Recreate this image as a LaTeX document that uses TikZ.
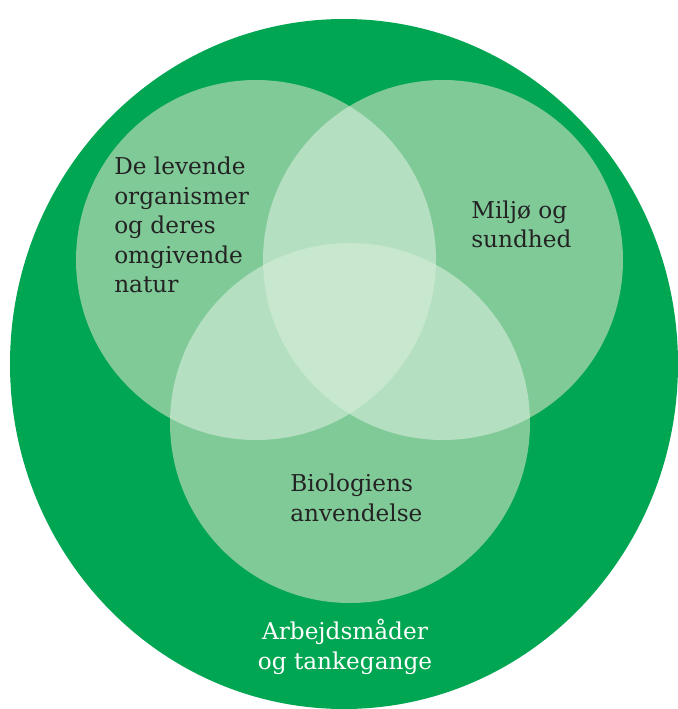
\documentclass[tikz,border=0pt]{standalone}
\usepackage{tikz}
\usepackage{fontspec}
\setmainfont{DejaVu Serif}
\usetikzlibrary{positioning}
\definecolor{ringgreen}{RGB}{0,166,81}
\definecolor{onegreen}{RGB}{128,202,152}
\definecolor{twogreen}{RGB}{180,223,192}
\definecolor{threegreen}{RGB}{199,231,207}
\definecolor{labeldark}{RGB}{35,35,35}
\newcommand{\circrad}{4.5}

\begin{document}
\begin{tikzpicture}[
  lbl/.style={font=\fontsize{16.5}{21}\selectfont, text=labeldark, inner sep=0pt, align=left, anchor=west}]
  \useasboundingbox (0,0) rectangle (16.95,-17.725);

  % Outer field
  \fill[ringgreen] (8.6,-9.1) ellipse [x radius=8.35, y radius=8.625];

  % The three circles
  \coordinate (nat) at (6.4,-6.5);
  \coordinate (mil) at (11.075,-6.5);
  \coordinate (anv) at (8.75,-10.575);
  \foreach \c in {nat,mil,anv} \fill[onegreen] (\c) circle (\circrad);

  % Pairwise overlaps
  \foreach \a/\b in {nat/mil, nat/anv, mil/anv} {
    \begin{scope}
      \clip (\a) circle (\circrad);
      \fill[twogreen] (\b) circle (\circrad);
    \end{scope}
  }

  % Centre
  \begin{scope}
    \clip (nat) circle (\circrad);
    \clip (mil) circle (\circrad);
    \fill[threegreen] (anv) circle (\circrad);
  \end{scope}

  % Labels
  \node[lbl] (natlbl) at (2.85,-5.625) {De levende\\organismer\\og deres\\omgivende\\natur};
  \node[lbl] (millbl) at (11.775,-5.61) {Milj\o{} og\\sundhed};
  \node[lbl] (anvlbl) at (7.25,-12.44) {Biologiens\\anvendelse};
  \node[lbl, text=white, align=center, anchor=center] (arblbl) at (8.625,-16.175) {Arbejdsm\aa der\\og tankegange};
\end{tikzpicture}
\end{document}
